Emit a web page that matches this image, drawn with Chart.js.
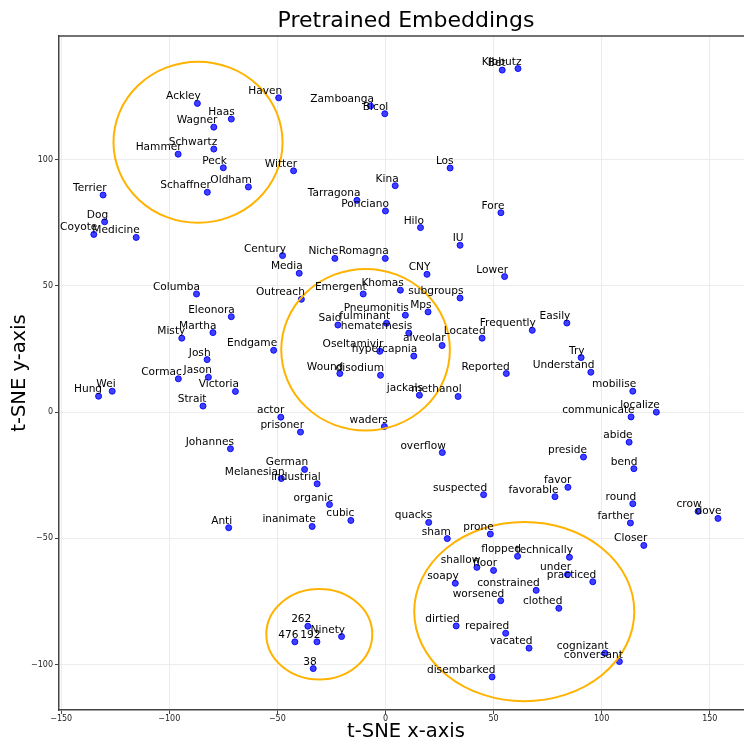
<!DOCTYPE html>
<html>
<head>
<meta charset="utf-8">
<script src="https://cdn.jsdelivr.net/npm/chart.js@4"></script>
<style>
  html, body { margin: 0; padding: 0; background: #fff; overflow: hidden; }
  #wrap { width: 744px; height: 744px; overflow: hidden; }
</style>
</head>
<body>
<div id="wrap"><canvas id="tsneChart" width="758" height="744"></canvas></div>
<script>
const words = ['Ackley', 'Haas', 'Wagner', 'Schwartz', 'Hammer', 'Peck', 'Oldham', 'Schaffner', 'Haven', 'Witter',
    'Terrier', 'Dog', 'Coyote', 'Medicine', 'Century', 'Zamboanga', 'Bicol', 'Los', 'Kina', 'Tarragona',
    'Ponciano', 'Hilo', 'IU', 'Fore', 'Niche', 'Romagna', 'Bet', 'Kibbutz', 'Media', 'Columba',
    'Outreach', 'Eleonora', 'Martha', 'Misty', 'Endgame', 'Josh', 'Cormac', 'Jason', 'Victoria', 'Hung',
    'Wei', 'Strait', 'actor', 'prisoner', 'Johannes', 'German', 'Melanesian', 'CNY', 'Emergent', 'Khomas',
    'subgroups', 'Mps', 'Pneumonitis', 'Said', 'fulminant', 'hematemesis', 'Located', 'alveolar', 'Oseltamivir', 'hypercapnia',
    'Wound', 'disodium', 'jackals', 'methanol', 'waders', 'overflow', 'industrial', 'suspected', 'Reported', 'Lower',
    'Frequently', 'Easily', 'Try', 'Understand', 'mobilise', 'communicate', 'localize', 'abide', 'preside', 'bend',
    'favor', 'favorable', 'round', 'crow', 'dove', 'farther', 'Closer', 'technically', 'flopped', 'prone',
    'floor', 'under', 'practiced', 'constrained', 'worsened', 'clothed', 'repaired', 'vacated', 'cognizant', 'conversant',
    'disembarked', 'organic', 'cubic', 'inanimate', 'quacks', 'sham', 'shallow', 'soapy', 'dirtied', '262',
    'Ninety', '476', '192', '38', 'Anti'];

const xs = [-87.0, -71.3, -79.4, -79.4, -95.9, -75.0, -63.4, -82.4, -49.4, -42.5,
    -130.6, -129.9, -134.9, -115.3, -47.6, -6.9, -0.3, 29.9, 4.5, -13.2,
    0.0, 16.2, 34.5, 53.4, -23.4, -0.1, 54.0, 61.3, -39.9, -87.4,
    -38.9, -71.3, -79.8, -94.2, -51.7, -82.5, -95.8, -81.9, -69.4, -132.7,
    -126.4, -84.4, -48.4, -39.3, -71.7, -37.4, -48.2, 19.2, -10.3, 6.9,
    34.5, 19.7, 9.2, -22.0, 0.5, 10.8, 44.7, 26.2, -2.6, 13.1,
    -21.1, -2.3, 15.7, 33.6, -0.5, 26.3, -31.6, 45.4, 55.9, 55.1,
    67.9, 83.9, 90.5, 95.0, 114.4, 113.6, 125.3, 112.7, 91.6, 114.9,
    84.4, 78.4, 114.4, 144.6, 153.8, 113.3, 119.5, 85.1, 61.1, 48.5,
    50.0, 84.2, 95.9, 69.7, 53.3, 80.2, 55.6, 66.4, 101.5, 108.2,
    49.3, -25.9, -16.0, -33.9, 20.0, 28.6, 42.3, 32.3, 32.7, -35.9,
    -20.3, -41.9, -31.7, -33.4, -72.5];

const ys = [122.3, 116.1, 112.9, 104.2, 102.2, 96.8, 89.2, 87.1, 124.5, 95.6,
    86.0, 75.4, 70.4, 69.2, 62.0, 121.3, 118.2, 96.7, 89.7, 83.9,
    79.7, 73.1, 66.1, 79.0, 60.9, 60.9, 135.5, 136.1, 55.0, 46.8,
    44.7, 37.8, 31.5, 29.3, 24.5, 20.8, 13.2, 13.8, 8.2, 6.3,
    8.3, 2.4, -2.0, -7.9, -14.5, -22.7, -26.3, 54.6, 46.8, 48.3,
    45.2, 39.7, 38.4, 34.5, 35.2, 31.3, 29.3, 26.4, 24.1, 22.2,
    15.3, 14.6, 6.7, 6.2, -5.7, -16.0, -28.4, -32.7, 15.3, 53.7,
    32.4, 35.3, 21.6, 15.8, 8.3, -1.9, 0.0, -11.9, -17.8, -22.4,
    -29.8, -33.5, -36.3, -39.3, -42.1, -43.9, -52.8, -57.5, -57.1, -48.3,
    -62.7, -64.3, -67.2, -70.6, -74.7, -77.7, -87.6, -93.5, -95.5, -98.8,
    -104.9, -36.6, -42.9, -45.3, -43.7, -50.1, -61.5, -67.8, -84.7, -84.8,
    -88.9, -91.0, -91.0, -101.6, -45.8];

// highlighted clusters (centre and radii in data units)
const ringX = [-86.7, -9.2, -30.6, 64.2];
const ringY = [106.9, 24.7, -88.0, -79.0];
const ringRx = [39.1, 39.0, 24.5, 50.9];
const ringRy = [31.9, 32.0, 17.9, 35.5];

const xTicks = [-150, -100, -50, 0, 50, 100, 150];
const yTicks = [-100, -50, 0, 50, 100];

const points = xs.map((x, i) => ({ x: x, y: ys[i] }));

const wordLabels = {
    id: 'wordLabels',
    afterDatasetsDraw(chart) {
        const ctx = chart.ctx;
        const meta = chart.getDatasetMeta(0);
        ctx.save();
        ctx.font = '10.6px "DejaVu Sans"';
        ctx.fillStyle = '#000';
        ctx.textAlign = 'right';
        ctx.textBaseline = 'alphabetic';
        meta.data.forEach((el, i) => {
            ctx.fillText(words[i], el.x + 3.5, el.y - 4);
        });
        ctx.restore();
    }
};

const rings = {
    id: 'rings',
    afterDatasetsDraw(chart) {
        const { ctx, scales: { x, y }, chartArea } = chart;
        ctx.save();
        ctx.strokeStyle = '#ffb300';
        ctx.lineWidth = 2;
        ringX.forEach((cx, i) => {
            const px = x.getPixelForValue(cx);
            const py = y.getPixelForValue(ringY[i]);
            const rx = Math.abs(x.getPixelForValue(cx + ringRx[i]) - px);
            const ry = Math.abs(y.getPixelForValue(ringY[i] + ringRy[i]) - py);
            ctx.beginPath();
            ctx.ellipse(px, py, rx, ry, 0, 0, Math.PI * 2);
            ctx.stroke();
        });
        // top spine
        ctx.strokeStyle = '#444';
        ctx.lineWidth = 1.5;
        ctx.beginPath();
        ctx.moveTo(chartArea.left, chartArea.top);
        ctx.lineTo(chartArea.right, chartArea.top);
        ctx.stroke();
        ctx.restore();
    }
};

const minus = v => String(v).replace('-', '\u2212');

new Chart(document.getElementById('tsneChart'), {
    type: 'scatter',
    data: {
        datasets: [{
            label: 'words',
            data: points,
            backgroundColor: 'rgba(0,0,255,0.75)',
            borderColor: 'rgba(0,0,255,0.9)',
            borderWidth: 1,
            pointRadius: 3,
        }]
    },
    options: {
        responsive: false,
        animation: false,
        layout: { padding: 0 },
        plugins: {
            legend: { display: false },
            tooltip: { enabled: false },
            title: {
                display: true,
                text: 'Pretrained Embeddings',
                fullSize: false,
                color: '#000',
                font: { family: 'DejaVu Sans', size: 22, weight: 'normal', lineHeight: 1.2 },
                padding: { top: 8.4, bottom: 1.2 }
            }
        },
        scales: {
            x: {
                type: 'linear',
                min: -151,
                max: 170,
                afterFit: s => { s.height = 34; },
                afterBuildTicks: s => { s.ticks = xTicks.map(v => ({ value: v })); },
                ticks: {
                    color: '#222',
                    padding: 0,
                    maxRotation: 0,
                    font: { family: 'DejaVu Sans', size: 8 },
                    callback: v => minus(v)
                },
                grid: { color: '#ececec', lineWidth: 1, tickLength: 4, tickColor: '#444' },
                border: { color: '#444', width: 1.5 },
                title: {
                    display: true,
                    text: 't-SNE x-axis',
                    color: '#000',
                    font: { family: 'DejaVu Sans', size: 19.5, lineHeight: 1.2 },
                    padding: { top: 0, bottom: 0 }
                }
            },
            y: {
                type: 'linear',
                min: -118,
                max: 149,
                afterFit: s => { s.width = 59; },
                afterBuildTicks: s => { s.ticks = yTicks.map(v => ({ value: v })); },
                ticks: {
                    color: '#222',
                    padding: 2,
                    font: { family: 'DejaVu Sans', size: 8 },
                    callback: v => minus(v)
                },
                grid: { color: '#ececec', lineWidth: 1, tickLength: 4, tickColor: '#444' },
                border: { color: '#444', width: 1.5 },
                title: {
                    display: true,
                    text: 't-SNE y-axis',
                    color: '#000',
                    font: { family: 'DejaVu Sans', size: 19.5, lineHeight: 1.2 },
                    padding: { top: 8, bottom: 0 }
                }
            }
        }
    },
    plugins: [rings, wordLabels]
});
</script>
</body>
</html>
